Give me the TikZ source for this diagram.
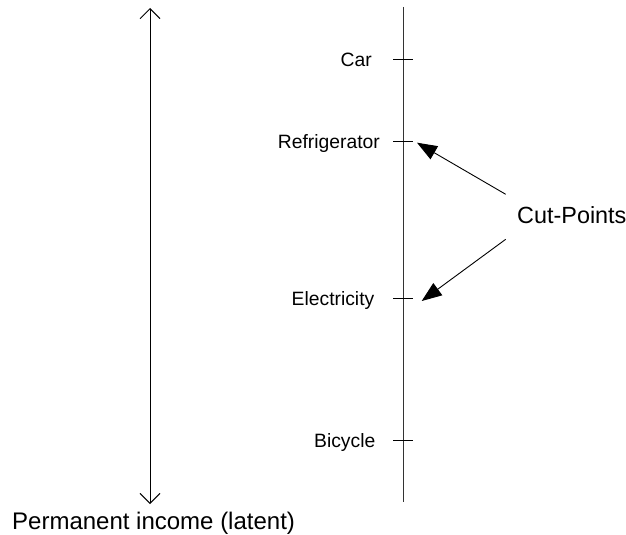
\documentclass[tikz,border=0pt]{standalone}
\usepackage{fontspec}
\setmainfont{Liberation Sans}
\usetikzlibrary{arrows.meta}
\begin{document}
\begin{tikzpicture}[x=1pt,y=-1pt,
  axisline/.style={line width=1pt,draw=black!80},
  tickline/.style={line width=0.9pt,draw=black},
  lbl/.style={inner sep=0pt,anchor=base east,font=\fontsize{19.3}{23}\selectfont},
  bigl/.style={inner sep=0pt,anchor=base west,font=\fontsize{23.4}{28}\selectfont},
  cutarrow/.style={line width=0.9pt,-{Triangle[length=20pt,width=15pt]}},
  latarrow/.style={line width=0.9pt,{Straight Barb[length=10pt,width=20pt]}-{Straight Barb[length=10pt,width=20pt]}}]
\useasboundingbox (0,0) rectangle (626,535);
% vertical axis
\coordinate (axtop) at (403,7);
\coordinate (axbot) at (403,502);
\draw[axisline] (axtop) -- (axbot);
% ticks
\foreach \n/\y in {car/59.5,ref/141,ele/298,bic/440.7}{
  \coordinate (\n L) at (393,\y);
  \coordinate (\n R) at (413,\y);
  \draw[tickline] (\n L) -- (\n R);
}
% labels
\node[lbl] (car) at (372,66.5) {Car};
\node[lbl] (ref) at (380,148) {Refrigerator};
\node[lbl] (ele) at (374.5,305) {Electricity};
\node[lbl] (bic) at (375.5,447.7) {Bicycle};
% cut points
\node[bigl] (cut) at (517,223) {Cut-Points};
\coordinate (c1) at (505.7,194.3);
\coordinate (c2) at (505.7,239.3);
\coordinate (t1) at (417,142.7);
\coordinate (t2) at (421.7,301);
\draw[cutarrow] (c1) -- (t1);
\draw[cutarrow] (c2) -- (t2);
% latent income axis
\coordinate (ltop) at (150,8);
\coordinate (lbot) at (150,504);
\draw[latarrow] (ltop) -- (lbot);
\node[bigl,font=\fontsize{24}{29}\selectfont] (perm) at (12,529) {Permanent income (latent)};
\end{tikzpicture}
\end{document}
